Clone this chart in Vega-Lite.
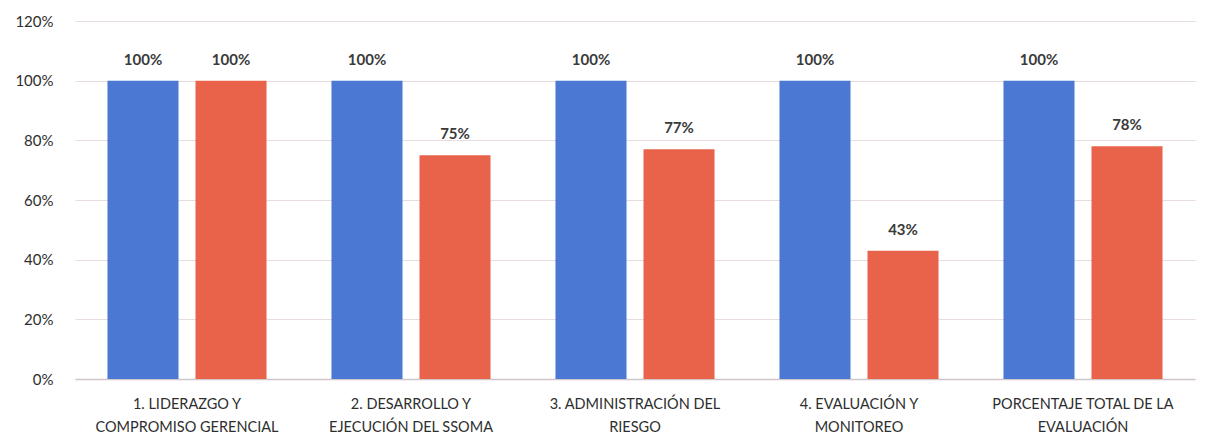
{
  "$schema": "https://vega.github.io/schema/vega-lite/v6.json",
  "width": 1120,
  "height": 358,
  "autosize": {"type": "none"},
  "padding": {"left": 75, "top": 21, "right": 10, "bottom": 61},
  "background": "#ffffff",
  "data": {
    "values": [
      {"cat": "1. LIDERAZGO Y|COMPROMISO GERENCIAL", "serie": "A", "value": 1.00},
      {"cat": "1. LIDERAZGO Y|COMPROMISO GERENCIAL", "serie": "B", "value": 1.00},
      {"cat": "2. DESARROLLO Y|EJECUCIÓN DEL SSOMA", "serie": "A", "value": 1.00},
      {"cat": "2. DESARROLLO Y|EJECUCIÓN DEL SSOMA", "serie": "B", "value": 0.75},
      {"cat": "3. ADMINISTRACIÓN DEL|RIESGO", "serie": "A", "value": 1.00},
      {"cat": "3. ADMINISTRACIÓN DEL|RIESGO", "serie": "B", "value": 0.77},
      {"cat": "4. EVALUACIÓN Y|MONITOREO", "serie": "A", "value": 1.00},
      {"cat": "4. EVALUACIÓN Y|MONITOREO", "serie": "B", "value": 0.43},
      {"cat": "PORCENTAJE TOTAL DE LA|EVALUACIÓN", "serie": "A", "value": 1.00},
      {"cat": "PORCENTAJE TOTAL DE LA|EVALUACIÓN", "serie": "B", "value": 0.78}
    ]
  },
  "encoding": {
    "x": {
      "field": "cat", "type": "nominal", "sort": null, "title": null,
      "scale": {"paddingInner": 0.29, "paddingOuter": 0.145},
      "axis": {
        "labelExpr": "split(datum.label, '|')",
        "labelAngle": 0, "labelFont": "Lato", "labelFontSize": 14.5,
        "labelColor": "#2e2e2e", "labelPadding": 18, "labelLineHeight": 23,
        "labelLimit": 260,
        "ticks": false, "domainColor": "#cfc6cc", "domainWidth": 1.5
      }
    },
    "xOffset": {"field": "serie", "type": "nominal", "scale": {"paddingInner": 0.193}},
    "y": {
      "field": "value", "type": "quantitative", "title": null,
      "scale": {"domain": [0, 1.2]},
      "axis": {
        "values": [0, 0.2, 0.4, 0.6, 0.8, 1.0, 1.2],
        "format": ".0%", "labelFont": "Lato", "labelFontSize": 15,
        "labelColor": "#2e2e2e", "labelPadding": 22, "ticks": false,
        "domain": false, "gridColor": "#e8dce3", "gridWidth": 1.2
      }
    }
  },
  "layer": [
    {
      "mark": {"type": "bar"},
      "encoding": {
        "color": {
          "field": "serie", "type": "nominal", "legend": null,
          "scale": {"domain": ["A", "B"], "range": ["#4a78d2", "#e9634b"]}
        }
      }
    },
    {
      "mark": {"type": "text", "dy": -21, "font": "Lato", "fontSize": 15, "fontWeight": "bold", "color": "#3a3a3a"},
      "encoding": {
        "text": {"field": "value", "type": "quantitative", "format": ".0%"}
      }
    }
  ],
  "config": {"view": {"stroke": null}}
}
